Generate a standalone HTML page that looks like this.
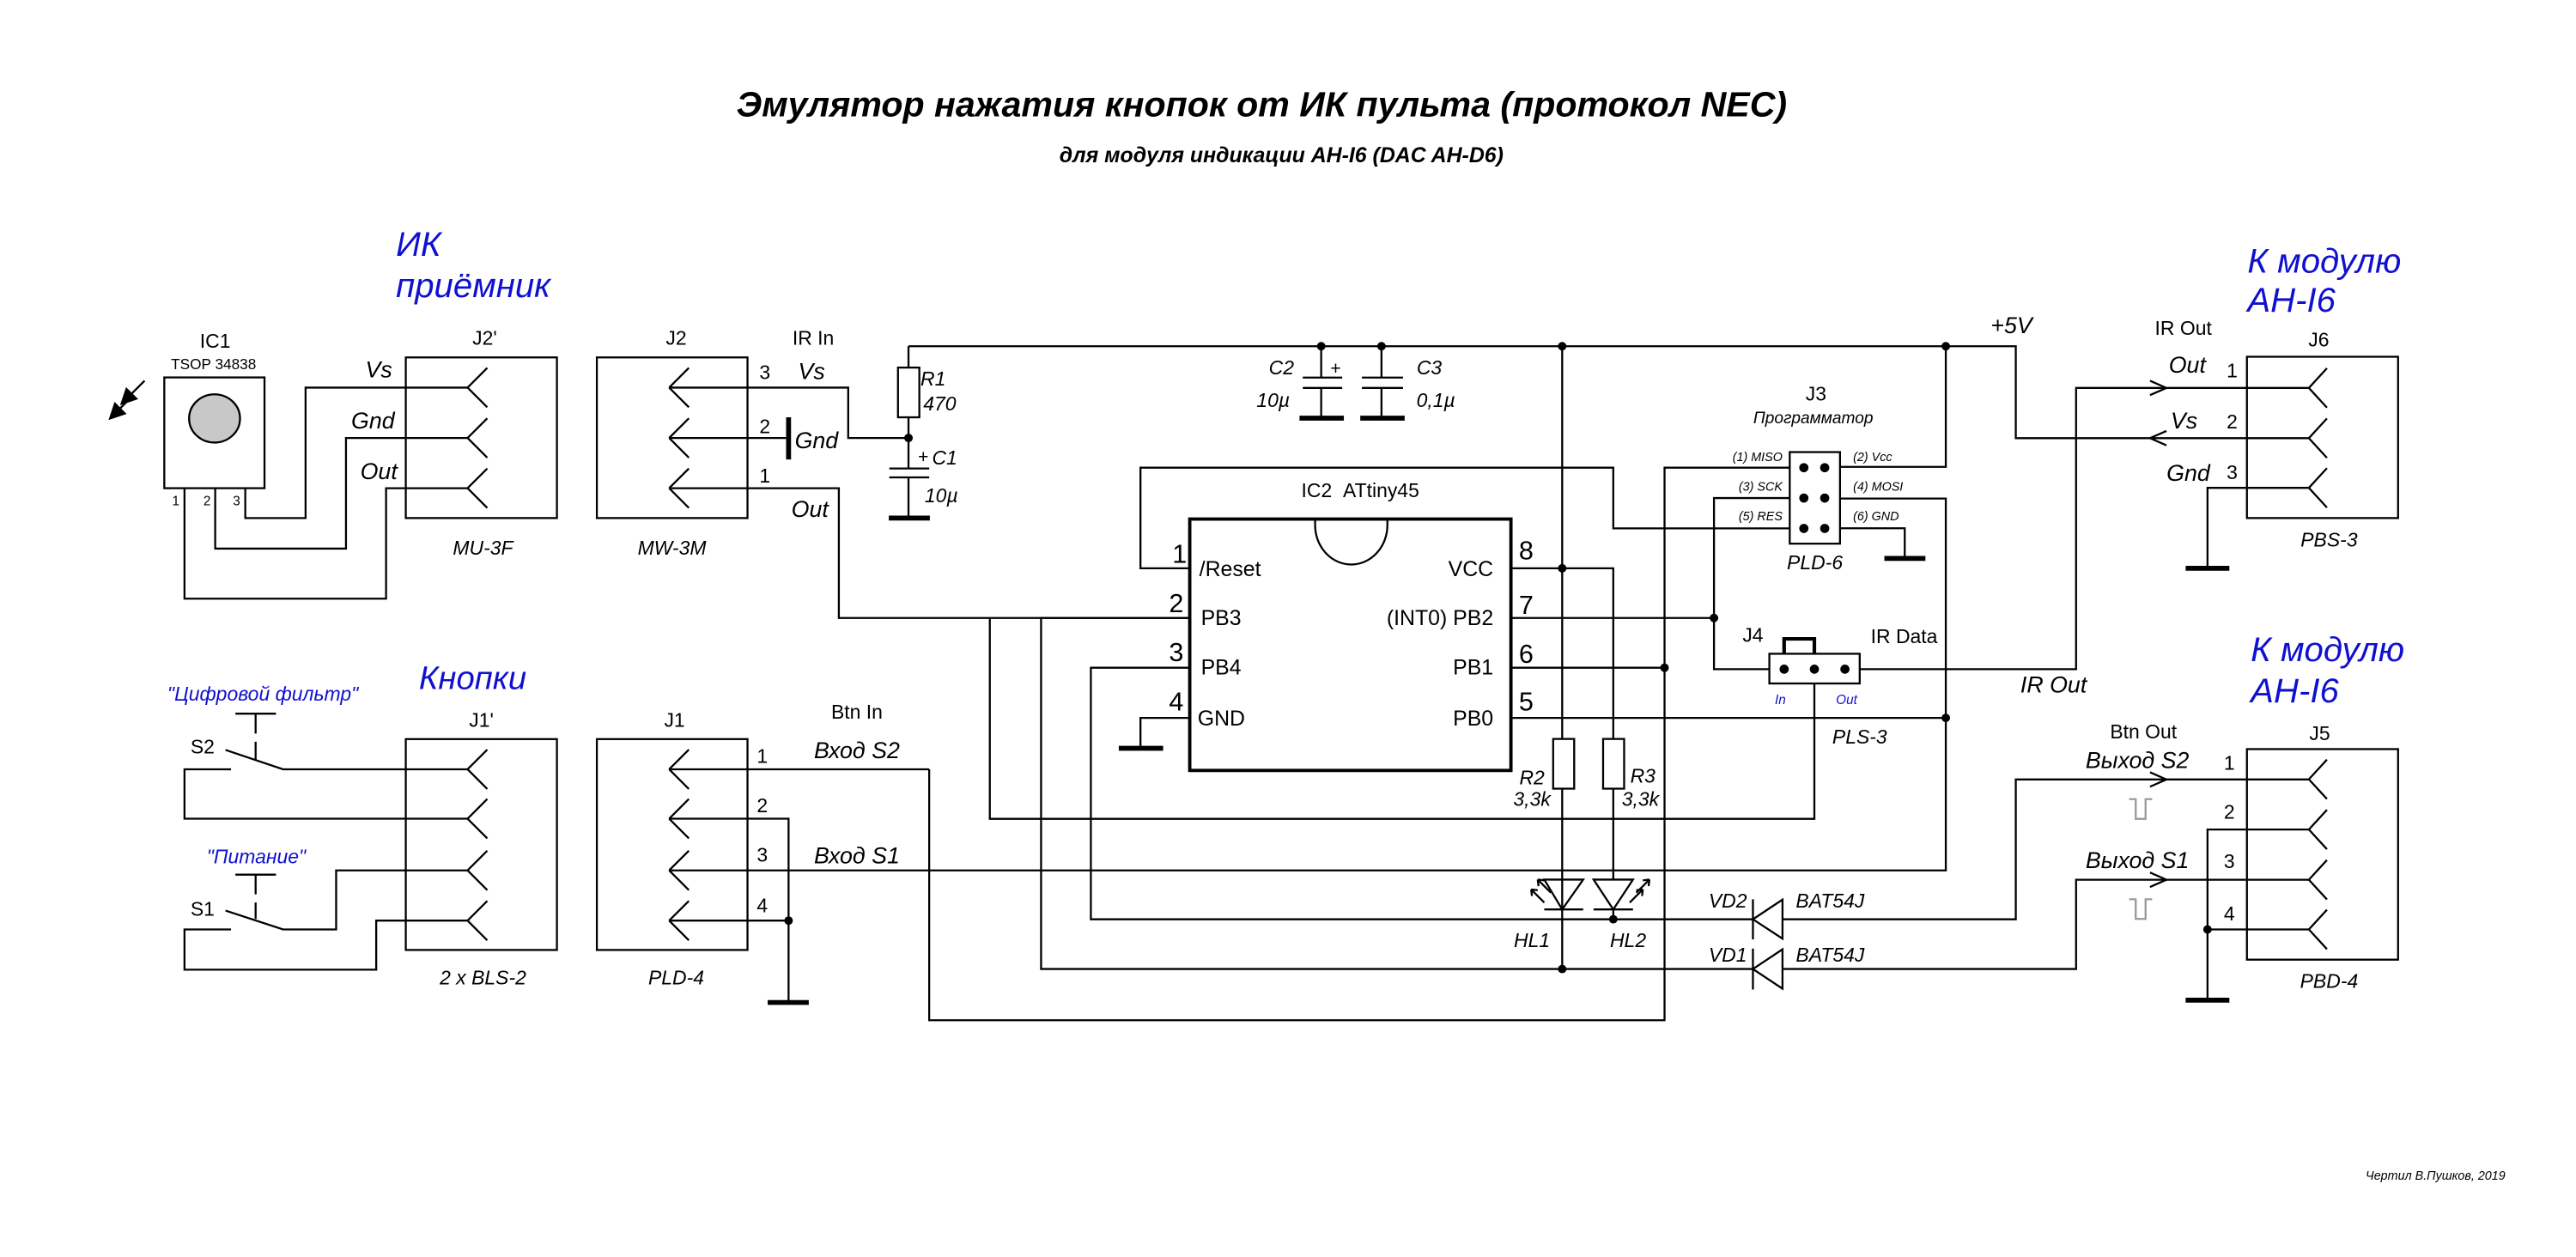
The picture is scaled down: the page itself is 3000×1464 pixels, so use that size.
<!DOCTYPE html>
<html><head><meta charset="utf-8"><style>
html,body{margin:0;padding:0;background:#fff;}
svg{display:block;}
text{font-family:"Liberation Sans","DejaVu Sans",sans-serif;fill:#000;}
.m{fill:#e010e0;font-style:italic;font-size:14px;}
.b{fill:#1010d0;font-style:italic;}
.i{font-style:italic;}
</style></head><body>
<svg width="3000" height="1464" viewBox="0 0 1568 766" preserveAspectRatio="none" xmlns="http://www.w3.org/2000/svg">
<rect width="1568" height="766" fill="#fff"/>
<g fill="none" stroke="#000" stroke-width="1.2">
<rect x="100" y="230" width="61" height="67.5"/>
<ellipse cx="130.6" cy="255" rx="15.5" ry="14.7" fill="#c8c8c8"/>
<path d="M149.3 297.5V315.7H186V236.2H284.6M131 297.5V334.3H210.6V266.9H284.6M112.3 297.5V364.8H235V297.5H284.6"/>
<rect x="247" y="217.8" width="92" height="97.9"/>
<path d="M284.6 236.2l12 -12M284.6 236.2l12 12M284.6 266.9l12 -12M284.6 266.9l12 12M284.6 297.5l12 -12M284.6 297.5l12 12"/>
<rect x="363.3" y="217.8" width="91.7" height="97.9"/>
<path d="M407.3 236.2l12 -12M407.3 236.2l12 12M407.3 266.9l12 -12M407.3 266.9l12 12M407.3 297.5l12 -12M407.3 297.5l12 12"/>
<path d="M407.3 236.2H516.3V266.9H553M407.3 266.9H480M407.3 297.5H510.6V376.6H724.2"/>
<path d="M480 254.3V280" stroke-width="3"/>
<rect x="546.6" y="224" width="13" height="30.3"/>
<path d="M553 211V224M553 254.3V285.5M553 290.9V315.7M541.3 285.5H565.6M541.3 290.9H565.6"/>
<path d="M541 315.7H566" stroke-width="3"/>
<path d="M553 211H1227V267H1405.4"/>
<path d="M804.2 211V230.1M793 230.1H817M793 236.4H817M804.2 236.4V254.8M840.9 211V230.1M829 230.1H854M829 236.4H854M840.9 236.4V254.8"/>
<path d="M791 254.8H818M828 254.8H855" stroke-width="3"/>
<rect x="724.2" y="316.3" width="195.5" height="153.2" stroke-width="2"/>
<path d="M800.5 316.3V320A22 24 0 0 0 844.5 320V316.3"/>
<path d="M724.2 346.3H694.2V285H982V322H1089.4"/>
<path d="M724.2 376.6H633.7V590.5H1067"/>
<path d="M724.2 406.9H664V560.2H1067"/>
<path d="M724.2 437.5H694.2V456"/>
<path d="M681 456H708" stroke-width="3"/>
<path d="M919.7 346.3H982V450.3M982 480.6V536M950.9 211V450.3M950.9 480.6V590.5"/>
<path d="M919.7 376.6H1043.3M1089.4 303.5H1043.3V407.8H1077"/>
<path d="M919.7 406.9H1013.2M1089.4 285H1013.2V621.7H565.6V468.8"/>
<path d="M919.7 437.5H1184.4M1120 284.5H1184.4V211M1120 303.8H1184.4V530.4H407.3"/>
<path d="M1120 321.9H1159.4V340.3"/>
<path d="M1147 340.3H1172" stroke-width="3"/>
<rect x="945.4" y="450.3" width="12.8" height="30.3"/>
<rect x="975.8" y="450.3" width="12.8" height="30.3"/>
<path d="M940 536H963.7L950.9 554.2ZM940 554.2H963.7M970 536H994L982 554.2ZM970 554.2H994M982 554.2V560.2"/>
<path d="M940 550l-8 -8M932 542l4 0.5M932 542l0.5 4M944 544l-8 -8M936 536l4 0.5M936 536l0.5 4"/>
<path d="M992 550l8 -8M1000 542l-4 0.5M1000 542l-0.5 4M996 544l8 -8M1004 536l-4 0.5M1004 536l-0.5 4"/>
<path d="M1085 548.2V572L1067 560.2ZM1067 548V572.5M1085 578.5V602.5L1067 590.5ZM1067 578V603"/>
<path d="M1085 560.2H1227V475H1405.4M1085 590.5H1263.7V536.1H1405.4"/>
<rect x="1089.4" y="275.5" width="30.6" height="55.8"/>
<rect x="1077" y="398.4" width="55" height="18.1"/>
<path d="M1086 398.4V389.3H1104.4V398.4" stroke-width="2.2"/>
<path d="M1104.4 416.5V499H602.5V376.6"/>
<path d="M1132 407.8H1263.7V236.4H1405.4"/>
<rect x="1367.7" y="217.4" width="92" height="98.3"/>
<path d="M1405.4 236.4l11 -12M1405.4 236.4l11 12M1405.4 267l11 -12M1405.4 267l11 12M1405.4 297.3l11 -12M1405.4 297.3l11 12"/>
<path d="M1308.7 232l10 4.4l-10 4.4M1318.7 262.6l-10 4.4l10 4.4M1308.7 470.6l10 4.4l-10 4.4M1308.7 531.7l10 4.4l-10 4.4"/>
<path d="M1405.4 297.3H1343.7V346.3"/>
<path d="M1330.4 346.3H1357" stroke-width="3"/>
<rect x="1367.7" y="456.5" width="92" height="128.3"/>
<path d="M1405.4 474.9l11 -12M1405.4 474.9l11 12M1405.4 505.5l11 -12M1405.4 505.5l11 12M1405.4 536.1l11 -12M1405.4 536.1l11 12M1405.4 566.4l11 -12M1405.4 566.4l11 12"/>
<path d="M1405.4 505.5H1343.7V609.5M1405.4 566.4H1343.7"/>
<path d="M1330.4 609.5H1357" stroke-width="3"/>
<path d="M1296 487H1300V499H1306V487H1310M1296 548H1300V560H1306V548H1310" stroke="#999"/>
<path d="M143.3 434.9H168M155.6 434.9V447M155.6 452V462.9M137.3 457L172.3 468.8H284.6M140.6 468.8H112.3V498.9H284.6"/>
<path d="M143.3 533H168M155.6 533V545M155.6 550V560M137.3 554.9L172.3 566.4H204.6V530.4H284.6M140.6 566.4H112.3V590.9H229V561H284.6"/>
<rect x="247" y="450.4" width="92" height="128.5"/>
<path d="M284.6 468.8l12 -12M284.6 468.8l12 12M284.6 498.9l12 -12M284.6 498.9l12 12M284.6 530.4l12 -12M284.6 530.4l12 12M284.6 561l12 -12M284.6 561l12 12"/>
<rect x="363.3" y="450.4" width="91.7" height="128.5"/>
<path d="M407.3 468.8l12 -12M407.3 468.8l12 12M407.3 498.9l12 -12M407.3 498.9l12 12M407.3 530.4l12 -12M407.3 530.4l12 12M407.3 561l12 -12M407.3 561l12 12"/>
<path d="M407.3 468.8H565.6M407.3 498.9H480V610.9M407.3 561H480"/>
<path d="M467.3 610.9H492.3" stroke-width="3"/>
</g>
<g fill="#000" stroke="#000" stroke-width="1.2">
<path d="M88 232L78 242"/><path d="M74 246l3-9l6 6z"/>
<path d="M81 241L71 251"/><path d="M67 255l3-9l6 6z"/>
</g>
<g fill="#000">
<circle cx="553" cy="266.9" r="2.6"/><circle cx="804.2" cy="211" r="2.6"/><circle cx="840.9" cy="211" r="2.6"/>
<circle cx="950.9" cy="211" r="2.6"/><circle cx="1184.4" cy="211" r="2.6"/><circle cx="950.9" cy="346.3" r="2.6"/>
<circle cx="1043.3" cy="376.6" r="2.6"/><circle cx="1013.2" cy="406.9" r="2.6"/><circle cx="1184.4" cy="437.5" r="2.6"/>
<circle cx="982" cy="560.2" r="2.6"/><circle cx="950.9" cy="590.5" r="2.6"/><circle cx="480" cy="561" r="2.6"/>
<circle cx="1343.7" cy="566.4" r="2.6"/>
<circle cx="1098" cy="285" r="2.8"/><circle cx="1110.7" cy="285" r="2.8"/><circle cx="1098" cy="303.5" r="2.8"/><circle cx="1110.7" cy="303.5" r="2.8"/><circle cx="1098" cy="322" r="2.8"/><circle cx="1110.7" cy="322" r="2.8"/>
<circle cx="1086" cy="407.8" r="2.8"/><circle cx="1104.4" cy="407.8" r="2.8"/><circle cx="1123" cy="407.8" r="2.8"/>
</g>
<text x="768" y="71" text-anchor="middle" font-size="21.5" font-weight="bold" font-style="italic">Эмулятор нажатия кнопок от ИК пульта (протокол NEC)</text>
<text x="780" y="99" text-anchor="middle" font-size="13" font-weight="bold" font-style="italic">для модуля индикации AH-I6 (DAC AH-D6)</text>
<text class="b" x="241" y="156" font-size="21">ИК</text>
<text class="b" x="241" y="181" font-size="21">приёмник</text>
<text class="b" x="255" y="420" font-size="20">Кнопки</text>
<text class="b" x="1368" y="166" font-size="21">К модулю</text>
<text class="b" x="1368" y="190" font-size="21">AH-I6</text>
<text class="b" x="1370" y="403" font-size="21">К модулю</text>
<text class="b" x="1370" y="428" font-size="21">AH-I6</text>
<text class="b" x="160" y="427" font-size="12" text-anchor="middle">"Цифровой фильтр"</text>
<text class="b" x="156" y="526" font-size="12" text-anchor="middle">"Питание"</text>
<g font-size="12" text-anchor="middle">
<text x="131" y="212">IC1</text><text x="130" y="225" font-size="9">TSOP 34838</text>
<text x="295" y="210">J2'</text><text x="411.6" y="210">J2</text><text x="495" y="210">IR In</text>
<text x="293" y="443">J1'</text><text x="410.6" y="443">J1</text><text x="521.6" y="438">Btn In</text>
<text x="828" y="303">IC2&#160;&#160;ATtiny45</text>
<text x="1105.4" y="244">J3</text><text x="1329" y="204">IR Out</text><text x="1411.4" y="211">J6</text>
<text x="1412" y="451">J5</text><text x="1304.7" y="450">Btn Out</text>
<text x="1067" y="391">J4</text><text x="1138.7" y="392" text-anchor="start">IR Data</text>
<text x="123.3" y="459">S2</text><text x="123.3" y="558">S1</text>
</g>
<g font-size="8" text-anchor="middle"><text x="107" y="308">1</text><text x="126" y="308">2</text><text x="144" y="308">3</text></g>
<g font-size="12" class="i" text-anchor="middle">
<text x="294" y="338">MU-3F</text><text x="409" y="338">MW-3M</text>
<text x="294" y="600">2 x BLS-2</text><text x="411.6" y="600">PLD-4</text>
<text x="1104.7" y="347">PLD-6</text><text x="1132" y="453">PLS-3</text>
<text x="1417.7" y="333">PBS-3</text><text x="1417.7" y="602">PBD-4</text>
<text x="1103.7" y="258" font-size="10">Программатор</text>
<text x="932.5" y="478">R2</text><text x="932.5" y="491">3,3k</text>
<text x="1000" y="477">R3</text><text x="998.5" y="491">3,3k</text>
<text x="932.5" y="577">HL1</text><text x="991" y="577">HL2</text>
<text x="1051.7" y="553">VD2</text><text x="1114" y="553">BAT54J</text>
<text x="1051.7" y="586">VD1</text><text x="1114" y="586">BAT54J</text>
<text x="780" y="228">C2</text><text x="775" y="248">10µ</text>
<text x="870" y="228">C3</text><text x="874" y="248">0,1µ</text>
<text x="568" y="235">R1</text><text x="572" y="250">470</text>
<text x="575" y="283">C1</text><text x="573" y="306">10µ</text>
</g>
<text x="813" y="228" font-size="11" text-anchor="middle">+</text>
<text x="562" y="282" font-size="11" text-anchor="middle">+</text>
<g font-size="7.5" class="i">
<text x="1085" y="281" text-anchor="end">(1) MISO</text><text x="1085" y="299" text-anchor="end">(3) SCK</text><text x="1085" y="317" text-anchor="end">(5) RES</text>
<text x="1128" y="281">(2) Vcc</text><text x="1128" y="299">(4) MOSI</text><text x="1128" y="317">(6) GND</text>
</g>
<text class="b" x="1083.7" y="429" font-size="8" text-anchor="middle">In</text>
<text class="b" x="1124" y="429" font-size="8" text-anchor="middle">Out</text>
<g class="m" text-anchor="middle">
<text x="230.6" y="230">Vs</text><text x="227" y="261">Gnd</text><text x="230.6" y="292">Out</text>
<text x="494" y="231">Vs</text><text x="497" y="273">Gnd</text><text x="493" y="315">Out</text>
<text x="521.6" y="462">Вход S2</text><text x="521.6" y="526">Вход S1</text>
<text x="1224.4" y="203">+5V</text><text x="1250" y="422">IR Out</text>
<text x="1331.4" y="227">Out</text><text x="1329.4" y="261">Vs</text><text x="1332" y="293">Gnd</text>
<text x="1301" y="468">Выход S2</text><text x="1301" y="529">Выход S1</text>
</g>
<g font-size="12" text-anchor="middle">
<text x="465.6" y="231">3</text><text x="465.6" y="264">2</text><text x="465.6" y="294">1</text>
<text x="464" y="465">1</text><text x="464" y="495">2</text><text x="464" y="525">3</text><text x="464" y="556">4</text>
<text x="1358.7" y="230">1</text><text x="1358.7" y="261">2</text><text x="1358.7" y="292">3</text>
<text x="1357" y="469">1</text><text x="1357" y="499">2</text><text x="1357" y="529">3</text><text x="1357" y="561">4</text>
</g>
<g font-size="16" text-anchor="middle">
<text x="718" y="343">1</text><text x="716" y="373">2</text><text x="716" y="403">3</text><text x="716" y="433">4</text>
<text x="929" y="341">8</text><text x="929" y="374">7</text><text x="929" y="404">6</text><text x="929" y="433">5</text>
</g>
<g font-size="13">
<text x="730" y="351">/Reset</text><text x="731" y="381">PB3</text><text x="731" y="411">PB4</text><text x="729" y="442">GND</text>
<text x="909" y="351" text-anchor="end">VCC</text><text x="909" y="381" text-anchor="end">(INT0) PB2</text>
<text x="909" y="411" text-anchor="end">PB1</text><text x="909" y="442" text-anchor="end">PB0</text>
</g>
<text x="1525" y="719" font-size="7.5" class="i" text-anchor="end">Чертил В.Пушков, 2019</text>
</svg>
</body></html>
